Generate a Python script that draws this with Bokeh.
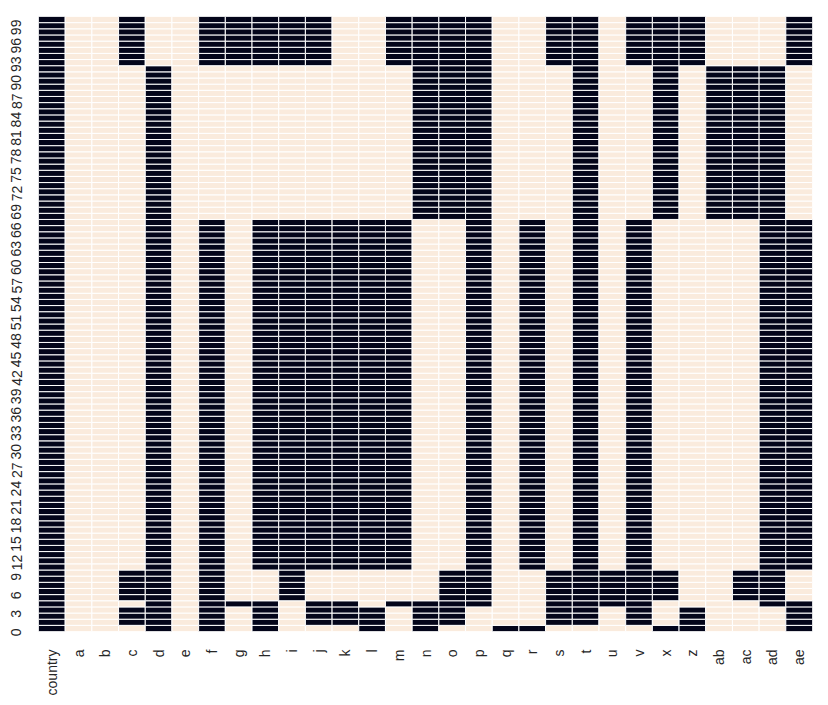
import math
from bokeh.plotting import figure
from bokeh.models import ColumnDataSource, FactorRange, Range1d, FixedTicker
from bokeh.embed import file_html
from bokeh.resources import INLINE

columns = ["country", "a", "b", "c", "d", "e", "f", "g", "h", "i", "j", "k", "l", "m",
           "n", "o", "p", "q", "r", "s", "t", "u", "v", "x", "z", "ab", "ac", "ad", "ae"]

# row blocks (first row, last row) and missing-value pattern per column (1 = dark)
block_rows = [(0, 0), (1, 3), (4, 4), (5, 9), (10, 66), (67, 91), (92, 99)]
block_patterns = [
    "10001010100010100110000110001",
    "10011010101110110001101010001",
    "10001011101101111001111000011",
    "10011010010000011001111100110",
    "10001010111111001010101000011",
    "10001000000000111000100101110",
    "10010011111001111001101110001",
]

y_tick_values = list(range(0, 100, 3))
y_tick_labels = [str(v) for v in y_tick_values]

dark = "#03051A"
light = "#FAEBDD"

xs, ys, colors = [], [], []
for (r0, r1), pat in zip(block_rows, block_patterns):
    for r in range(r0, r1 + 1):
        for ci, col in enumerate(columns):
            xs.append(col)
            ys.append(r + 0.5)
            colors.append(dark if pat[ci] == "1" else light)

src = ColumnDataSource(dict(x=xs, y=ys, c=colors))

p = figure(x_range=FactorRange(*columns), y_range=Range1d(0, 100),
           frame_width=774, frame_height=615,
           min_border_left=38, min_border_right=16, min_border_top=16, min_border_bottom=74,
           output_backend="svg", toolbar_location=None, tools="")
p.rect(x="x", y="y", width=1, height=1, source=src, fill_color="c",
       line_color="white", line_width=1)

p.outline_line_color = None
p.xgrid.visible = False
p.ygrid.visible = False

for ax in (p.xaxis[0], p.yaxis[0]):
    ax.axis_line_color = None
    ax.major_tick_line_color = None
    ax.minor_tick_line_color = None
    ax.major_tick_out = 0
    ax.major_tick_in = 0
    ax.major_label_text_font = "Liberation Sans"
    ax.major_label_text_font_size = "14px"
    ax.major_label_text_color = "#262626"
    ax.major_label_orientation = math.pi / 2

p.xaxis[0].major_label_standoff = 18
p.yaxis[0].major_label_standoff = 22
p.yaxis[0].ticker = FixedTicker(ticks=[v + 0.5 for v in y_tick_values])
p.yaxis[0].major_label_overrides = {v + 0.5: lab for v, lab in zip(y_tick_values, y_tick_labels)}

open("out.html", "w").write(file_html(p, INLINE))
